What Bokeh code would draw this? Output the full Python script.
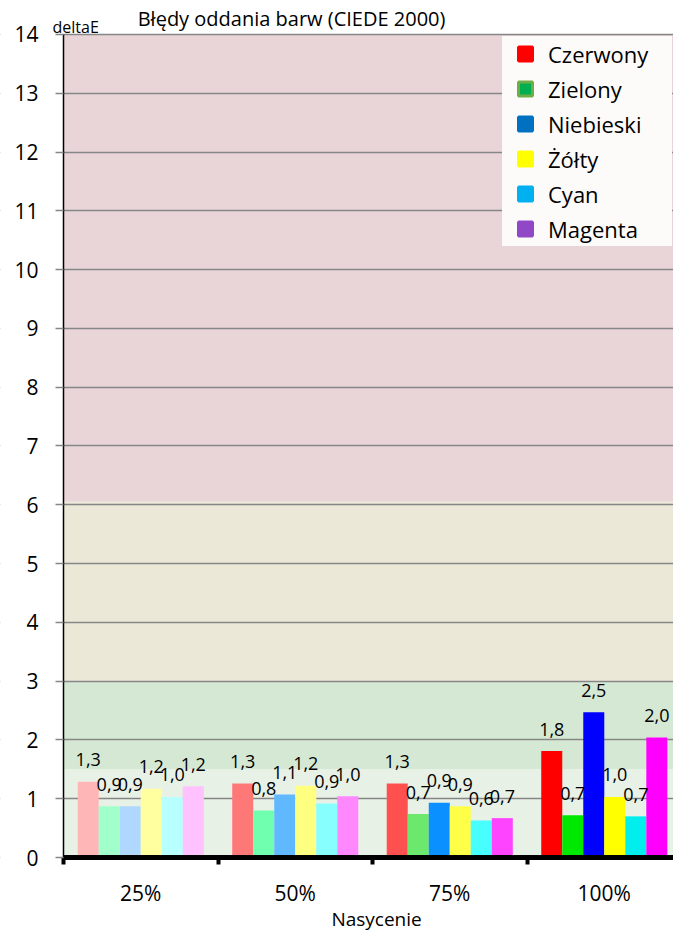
import numpy as np
from bokeh.plotting import figure
from bokeh.models import (Range1d, FixedTicker, BoxAnnotation, Legend, LegendItem,
                          Label, ColumnDataSource)
from bokeh.core.properties import value
from bokeh.embed import file_html
from bokeh.resources import INLINE

# ---------------- data ----------------
categories = ["25%", "50%", "75%", "100%"]
series = ["Czerwony", "Zielony", "Niebieski", "Żółty", "Cyan", "Magenta"]
czerwony = [1.29, 1.26, 1.26, 1.81]
zielony = [0.87, 0.80, 0.74, 0.72]
niebieski = [0.87, 1.07, 0.93, 2.47]
zolty = [1.17, 1.22, 0.87, 1.03]
cyan = [1.03, 0.92, 0.63, 0.70]
magenta = [1.21, 1.04, 0.67, 2.04]
y_ticks = list(range(0, 15))
band_bottom = [0, 1.5, 3, 6.05]
band_top = [1.5, 3, 6.05, 14]

# ---------------- styles ----------------
band_colors = ["#e8f1e6", "#d5e8d3", "#ebe8d8", "#e9d5d8"]
bar_shades = [
    ["#ffb6b6", "#ff7878", "#ff5050", "#ff0000"],
    ["#a0ffca", "#70ffae", "#6ce86c", "#00e800"],
    ["#b0d8ff", "#60b8ff", "#0a90ff", "#0000ff"],
    ["#ffffa0", "#ffff80", "#ffff48", "#ffff00"],
    ["#b8ffff", "#88ffff", "#48ffff", "#00eeee"],
    ["#ffc2ff", "#ff88ff", "#ff44ff", "#ff00ff"],
]
legend_fill = ["#ff0000", "#00b050", "#0070c0", "#ffff00", "#00b0f0", "#9148c6"]
legend_line = ["#ff0000", "#70ad47", "#0070c0", "#ffff00", "#00b0f0", "#9148c6"]
FONT = "Open Sans"
BAR_W = 0.136
X_MIN, X_MAX = -0.4078, 3.948   # room left of the value axis for its labels
Y_MAX = 14
Y_MIN, Y_TOP = -1.3097, 14.578  # room below / above the plot area for texts

values = [czerwony, zielony, niebieski, zolty, cyan, magenta]

xs, tops, colors, labels = [], [], [], []
for j, vals in enumerate(values):
    for i, v in enumerate(vals):
        xs.append(i + 0.5 + (j - 2.5) * BAR_W)
        tops.append(v)
        colors.append(bar_shades[j][i])
        labels.append(f"{v:.1f}".replace(".", ","))
src = ColumnDataSource(dict(x=xs, top=tops, color=colors, label=labels))

W, H = 673, 934
p = figure(width=W, height=H, output_backend="svg", toolbar_location=None,
           x_range=Range1d(X_MIN, X_MAX), y_range=Range1d(Y_MIN, Y_TOP),
           min_border=0)
p.outline_line_color = None
p.background_fill_color = "white"
p.border_fill_color = "white"

for b, t, c in zip(band_bottom, band_top, band_colors):
    p.add_layout(BoxAnnotation(left=0, bottom=b, top=t, fill_color=c, fill_alpha=1,
                               line_color=None, level="image"))

# grid
p.xgrid.grid_line_color = None
p.ygrid.ticker = FixedTicker(ticks=y_ticks)
p.ygrid.grid_line_color = "#868686"
p.ygrid.grid_line_width = 1.5
# white margin left of the value axis (hides grid lines there)
p.add_layout(BoxAnnotation(right=0, fill_color="white", fill_alpha=1,
                           line_color=None, level="underlay"))

p.vbar(x="x", top="top", bottom=0, width=BAR_W, fill_color="color",
       line_color=None, source=src)
p.text(x="x", y="top", text="label", source=src, text_align="center",
       text_baseline="middle", y_offset=-22, text_font=value(FONT),
       text_font_size="18px", text_color="black")

# y axis
ya = p.yaxis[0]
ya.fixed_location = 0
ya.ticker = FixedTicker(ticks=y_ticks)
ya.bounds = (0, Y_MAX)
ya.axis_line_color = "black"
ya.axis_line_width = 1.5
ya.major_tick_line_color = "#868686"
ya.major_tick_line_width = 1.5
ya.major_tick_out = 8
ya.major_tick_in = 0
ya.minor_tick_line_color = None
ya.major_label_text_font = FONT
ya.major_label_text_font_size = "21px"
ya.major_label_text_color = "black"
ya.major_label_standoff = 17

# x axis
xa = p.xaxis[0]
xa.fixed_location = 0
xa.ticker = FixedTicker(ticks=[0.5, 1.5, 2.5, 3.5], minor_ticks=[0, 1, 2, 3, 4])
xa.major_label_overrides = {0.5: categories[0], 1.5: categories[1],
                            2.5: categories[2], 3.5: categories[3]}
xa.bounds = (0, X_MAX)
xa.axis_line_color = "black"
xa.axis_line_width = 5
xa.major_tick_line_color = None
xa.major_tick_out = 0
xa.major_tick_in = 0
xa.minor_tick_line_color = "black"
xa.minor_tick_line_width = 4
xa.minor_tick_out = 7
xa.minor_tick_in = 0
xa.major_label_text_font = FONT
xa.major_label_text_font_size = "21px"
xa.major_label_text_color = "black"
xa.major_label_standoff = 14

# texts
p.add_layout(Label(x=1.476, y=14.27, text="Błędy oddania barw (CIEDE 2000)",
                   text_align="center", text_baseline="alphabetic",
                   text_font=FONT, text_font_size="20px", text_color="black",
                   level="overlay"))
p.add_layout(Label(x=-0.071, y=14.12, text="deltaE", text_align="left",
                   text_baseline="alphabetic", text_font=FONT,
                   text_font_size="16px", text_color="black", level="overlay"))
p.add_layout(Label(x=2.026, y=-1.045, text="Nasycenie", text_align="center",
                   text_baseline="middle", text_font=FONT,
                   text_font_size="19px", text_color="black", level="overlay"))

# legend
items = []
for name, fc, lc in zip(series, legend_fill, legend_line):
    r = p.scatter(x=np.array([np.nan]), y=np.array([np.nan]), marker="square",
                  fill_color=fc, line_color=lc, line_width=3)
    items.append(LegendItem(label=name, renderers=[r]))
leg = Legend(items=items, location=(502, 688), padding=0, spacing=0,
             glyph_width=46, glyph_height=35, label_standoff=0,
             label_width=124, label_height=35,
             label_text_font=FONT, label_text_font_size="22px",
             label_text_color="black", background_fill_color="#fcfbfa",
             background_fill_alpha=1, border_line_color=None, margin=0)
p.add_layout(leg)

open("out.html", "w").write(file_html(p, INLINE))
